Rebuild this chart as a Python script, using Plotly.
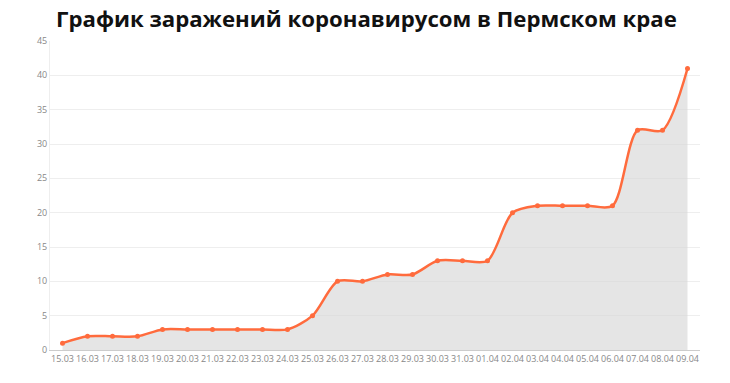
import plotly.graph_objects as go

dates = ["15.03","16.03","17.03","18.03","19.03","20.03","21.03","22.03","23.03","24.03",
         "25.03","26.03","27.03","28.03","29.03","30.03","31.03","01.04","02.04","03.04",
         "04.04","05.04","06.04","07.04","08.04","09.04"]
cases = [1,2,2,2,3,3,3,3,3,3,5,10,10,11,11,13,13,13,20,21,21,21,21,32,32,41]
y_ticks = [0,5,10,15,20,25,30,35,40,45]

fig = go.Figure()
fig.add_trace(go.Scatter(
    x=dates, y=cases, mode="lines+markers",
    line=dict(color="#ff6b3d", width=2.5, shape="spline", smoothing=0.8),
    marker=dict(color="#ff6b3d", size=5),
    fill="tozeroy", fillcolor="rgba(215,215,215,0.65)",
    hoverinfo="x+y",
))
fig.update_layout(
    width=730, height=383,
    margin=dict(l=50, r=30, t=41, b=33, autoexpand=False),
    paper_bgcolor="white", plot_bgcolor="white",
    showlegend=False,
    title=dict(text="<b>График заражений коронавирусом в Пермском крае</b>",
               x=0.502, xanchor="center", y=0.951, yanchor="middle",
               font=dict(family="Open Sans", size=22.2, color="#111")),
    font=dict(family="Open Sans", size=9, color="#888"),
)
fig.update_xaxes(type="category", range=[-0.5, len(dates)-0.5], automargin=False,
                 showgrid=False, showline=True, linecolor="#ccc", linewidth=1,
                 ticks="", tickfont=dict(size=9, color="#888"), fixedrange=True)
fig.update_yaxes(range=[0, 45], tickvals=y_ticks, showgrid=True, gridcolor="#eeeeee",
                 showline=True, linecolor="#eeeeee", zeroline=False, automargin=False,
                 ticks="", tickfont=dict(size=9, color="#888"), fixedrange=True)
fig.write_html("out.html", config={"displayModeBar": False},
               post_script="document.body.style.margin='0';")
